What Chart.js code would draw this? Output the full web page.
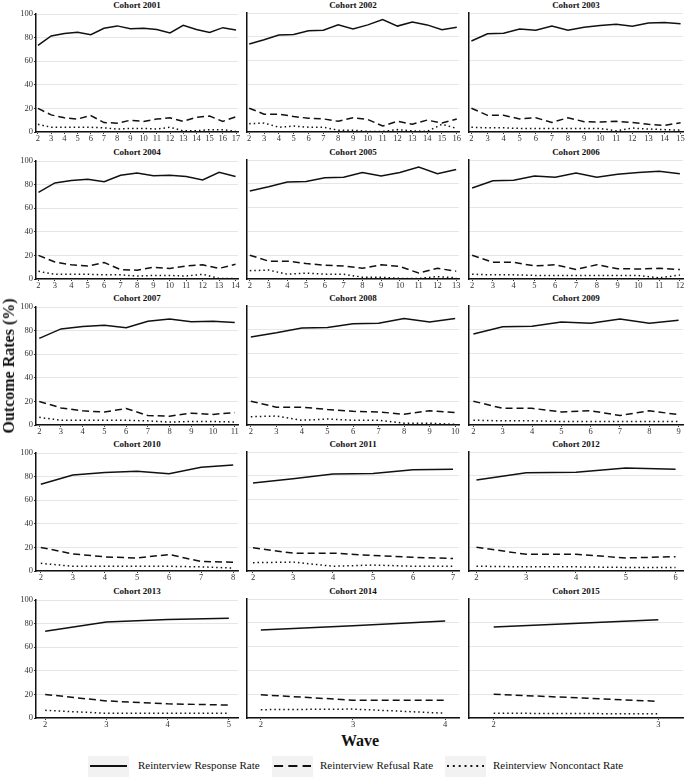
<!DOCTYPE html>
<html>
<head>
<meta charset="utf-8">
<script src="https://cdn.jsdelivr.net/npm/chart.js@4/dist/chart.umd.min.js"></script>
<style>
  html, body { margin: 0; padding: 0; background: #fff; }
  #page { position: relative; width: 685px; height: 777px; overflow: hidden; font-family: "Liberation Serif", "DejaVu Serif", serif; color: #111; }
  .panel { position: absolute; }
  .strip { position: absolute; height: 10px; line-height: 10px; font-size: 9px; font-weight: bold; text-align: center; white-space: nowrap; }
  .axis-title { position: absolute; font-size: 16px; font-weight: bold; white-space: nowrap; }
  .key { position: absolute; top: 756px; height: 21px; background: #f2f2f2; }
  .key-label { position: absolute; top: 758px; font-size: 11px; line-height: 14px; white-space: nowrap; }
</style>
</head>
<body>
<div id="page"></div>
<script>
// Cohorts, one small panel each
const cohorts = [2001, 2002, 2003, 2004, 2005, 2006, 2007, 2008, 2009, 2010, 2011, 2012, 2013, 2014, 2015];

// Wave tick labels per cohort
const waves = [
  [2, 3, 4, 5, 6, 7, 8, 9, 10, 11, 12, 13, 14, 15, 16, 17],
  [2, 3, 4, 5, 6, 7, 8, 9, 10, 11, 12, 13, 14, 15, 16],
  [2, 3, 4, 5, 6, 7, 8, 9, 10, 11, 12, 13, 14, 15],
  [2, 3, 4, 5, 6, 7, 8, 9, 10, 11, 12, 13, 14],
  [2, 3, 4, 5, 6, 7, 8, 9, 10, 11, 12, 13],
  [2, 3, 4, 5, 6, 7, 8, 9, 10, 11, 12],
  [2, 3, 4, 5, 6, 7, 8, 9, 10, 11],
  [2, 3, 4, 5, 6, 7, 8, 9, 10],
  [2, 3, 4, 5, 6, 7, 8, 9],
  [2, 3, 4, 5, 6, 7, 8],
  [2, 3, 4, 5, 6, 7],
  [2, 3, 4, 5, 6],
  [2, 3, 4, 5],
  [2, 3, 4],
  [2, 3],
];

// Reinterview response rate (%)
const responseRate = [
  [73.5, 81.5, 83.5, 84.5, 82.5, 88, 90, 87.5, 88, 87, 84, 90.5, 87, 84.5, 88.5, 86.5],
  [74, 77.5, 81.5, 82, 85, 85.5, 90, 86.5, 90, 94.5, 89, 92.5, 90, 86, 88],
  [76.5, 82.5, 83, 86.5, 85.5, 89, 85.5, 88, 89.5, 90.5, 88.8, 91.5, 92, 91],
  [73.5, 81.5, 83.5, 84.5, 82.5, 88, 90, 87.5, 88, 87, 84, 90.5, 87],
  [74, 77.5, 81.5, 82, 85, 85.5, 89.5, 86.5, 89.5, 94, 88.5, 92],
  [76.5, 82.5, 83, 86.5, 85.5, 89, 85.5, 88, 89.5, 90.5, 88.5],
  [73.5, 81.5, 83.5, 84.5, 82.5, 88, 90, 87.5, 88, 87],
  [74, 77.5, 81.5, 82, 85, 85.5, 89.5, 86.5, 89.5],
  [76.5, 82.5, 83, 86.5, 85.5, 89, 85.5, 88],
  [73.5, 81.5, 83.5, 84.5, 82.5, 88, 90],
  [74, 77.5, 81.5, 82, 85, 85.5],
  [76.5, 82.5, 83, 86.5, 85.5],
  [73.5, 81.5, 83.5, 84.5],
  [74, 77.5, 81.5],
  [76.5, 82.5],
];

// Reinterview refusal rate (%)
const refusalRate = [
  [20, 14.5, 12, 11, 14, 8, 7.5, 10, 9, 11, 12, 9, 12.5, 13.5, 9, 13],
  [20, 15, 15, 13, 11.5, 11, 9, 12, 10.5, 5, 9, 6.5, 10, 7.5, 11],
  [20, 14, 14, 11, 12, 8, 12, 8.7, 8.4, 9, 8, 6.5, 5.6, 7.8],
  [20, 14.5, 12, 11, 14, 8, 7.5, 10, 9, 11, 12, 9, 12.5],
  [20, 15, 15, 13, 11.5, 11, 9, 12, 10.5, 5, 9, 6.5],
  [20, 14, 14, 11, 12, 8, 12, 8.7, 8.4, 9, 8],
  [20, 14.5, 12, 11, 14, 8, 7.5, 10, 9, 10.5],
  [20, 15, 15, 13, 11.5, 11, 9, 12, 10.5],
  [20, 14, 14, 11, 12, 8, 12, 8.7],
  [20, 14.5, 12, 11, 14, 8, 7.5],
  [19.5, 15, 15, 13, 11.5, 10.5],
  [20, 14, 14, 11, 12],
  [20, 14.5, 12, 11],
  [19.5, 15, 15],
  [20, 14],
];

// Reinterview noncontact rate (%)
const noncontactRate = [
  [6.5, 4, 4, 4, 4, 3.5, 2.5, 3, 3, 2.5, 4, 1, 1, 2, 2, 0.5],
  [7, 7.5, 4, 5, 4, 4, 1.5, 1.5, 0.5, 0.5, 2, 1, 0.5, 6.5, 3],
  [4, 3.5, 3.5, 3, 3, 3, 3, 3, 3, 1, 3.3, 2.5, 2, 1.5],
  [6.5, 4, 4, 4, 3.5, 3.5, 2.5, 3, 3, 2.5, 4, 0.5, 0.5],
  [7, 7.5, 4, 5, 4, 4, 1.5, 1.5, 0.5, 0.5, 2, 1],
  [4, 3.5, 3.5, 3, 3, 3, 3, 3, 3, 1, 3.3],
  [6.5, 4, 4, 4, 4, 3.5, 2.5, 3, 3, 2.5],
  [7, 7.5, 4, 5, 4, 4, 1.5, 1.5, 0.5],
  [4, 3.5, 3.5, 3, 3, 3, 3, 3],
  [6.5, 4, 4, 4, 4, 3.5, 2.5],
  [7, 7.5, 4, 5, 4, 4],
  [4, 3.5, 3.5, 3, 3],
  [6.5, 4, 4, 4],
  [7, 7.5, 4],
  [4, 3.5],
];

const seriesNames = ["Reinterview Response Rate", "Reinterview Refusal Rate", "Reinterview Noncontact Rate"];
const yTicks = [0, 20, 40, 60, 80, 100];

// panel grid geometry (plot areas in page pixels)
const colLeft = [36, 247, 469];
const colRight = [238, 459, 683];
const rowTop = [13, 160, 306, 452, 599];
const plotHeight = 119;

const page = document.getElementById("page");
const tickFont = { family: "'Liberation Serif', serif", size: 8.5 };
const dashes = [[], [7, 4], [1.5, 3]];

function toPoints(xs, ys) {
  return ys.map((y, i) => ({ x: xs[i], y: y }));
}

function createPanel(index) {
  const row = Math.floor(index / 3);
  const col = index % 3;
  const yWidth = col === 0 ? 36 : 1;
  const padLeft = col === 0 ? 0 : 4;
  const padRight = 4;
  const padTop = 5;
  const xHeight = 14;
  const plotWidth = colRight[col] - colLeft[col];

  const strip = document.createElement("div");
  strip.className = "strip";
  strip.style.left = colLeft[col] + "px";
  strip.style.width = plotWidth + "px";
  strip.style.top = rowTop[row] - 13 + "px";
  strip.textContent = "Cohort " + cohorts[index];
  page.appendChild(strip);

  const canvas = document.createElement("canvas");
  canvas.className = "panel";
  const w = plotWidth + yWidth + padLeft + padRight;
  const h = padTop + plotHeight + xHeight;
  canvas.width = w;
  canvas.height = h;
  canvas.style.width = w + "px";
  canvas.style.height = h + "px";
  canvas.style.left = colLeft[col] - yWidth - padLeft + "px";
  canvas.style.top = rowTop[row] - padTop + "px";
  page.appendChild(canvas);

  const xs = waves[index];
  const rates = [responseRate[index], refusalRate[index], noncontactRate[index]];

  return new Chart(canvas.getContext("2d"), {
    type: "line",
    data: {
      datasets: rates.map((r, k) => ({
        label: seriesNames[k],
        data: toPoints(xs, r),
        borderColor: "#111",
        borderWidth: 1.5,
        borderDash: dashes[k],
        pointRadius: 0,
        tension: 0,
        fill: false,
      })),
    },
    options: {
      responsive: false,
      animation: false,
      layout: { padding: { top: padTop, right: padRight, left: padLeft, bottom: 0 } },
      plugins: { legend: { display: false }, tooltip: { enabled: false } },
      scales: {
        x: {
          type: "linear",
          min: xs[0] - 0.15,
          max: xs[xs.length - 1] + 0.15,
          afterBuildTicks: (axis) => {
            axis.ticks = xs.map((v) => ({ value: v }));
          },
          afterFit: (scale) => {
            scale.height = xHeight;
          },
          grid: { drawOnChartArea: false, drawTicks: true, tickLength: 2, tickColor: "#333" },
          border: { display: true, color: "#111", width: 1.5 },
          ticks: { font: tickFont, color: "#333", padding: 0, maxRotation: 0, autoSkip: false },
        },
        y: {
          min: 0,
          max: 100,
          afterBuildTicks: (axis) => {
            axis.ticks = yTicks.map((v) => ({ value: v }));
          },
          afterFit: (scale) => {
            scale.width = yWidth;
          },
          grid: { color: "#e6e6e6", lineWidth: 1, drawTicks: col === 0, tickLength: 2, tickColor: "#333" },
          border: { display: true, color: "#111", width: 1.5 },
          ticks: { display: col === 0, font: tickFont, color: "#333", padding: 1 },
        },
      },
    },
  });
}

cohorts.forEach((c, i) => createPanel(i));

// axis titles
const yTitle = document.createElement("div");
yTitle.className = "axis-title";
yTitle.textContent = "Outcome Rates (%)";
yTitle.style.left = "9px";
yTitle.style.top = "366px";
yTitle.style.transform = "translate(-50%, -50%) rotate(-90deg)";
page.appendChild(yTitle);

const xTitle = document.createElement("div");
xTitle.className = "axis-title";
xTitle.textContent = "Wave";
xTitle.style.left = "360px";
xTitle.style.top = "741px";
xTitle.style.transform = "translate(-50%, -50%)";
page.appendChild(xTitle);

// legend
const keyLeft = [88, 272, 445];
const labelLeft = [138, 320, 493];
seriesNames.forEach((name, k) => {
  const key = document.createElement("div");
  key.className = "key";
  key.style.left = keyLeft[k] + "px";
  key.style.width = "41px";
  const dash = dashes[k].length ? dashes[k].map((d) => d * 1.3).join(",") : "none";
  key.innerHTML =
    '<svg width="41" height="21"><line x1="2" y1="10" x2="39" y2="10" stroke="#111" stroke-width="1.8" stroke-dasharray="' +
    dash + '"/></svg>';
  page.appendChild(key);

  const label = document.createElement("div");
  label.className = "key-label";
  label.style.left = labelLeft[k] + "px";
  label.textContent = name;
  page.appendChild(label);
});
</script>
</body>
</html>
